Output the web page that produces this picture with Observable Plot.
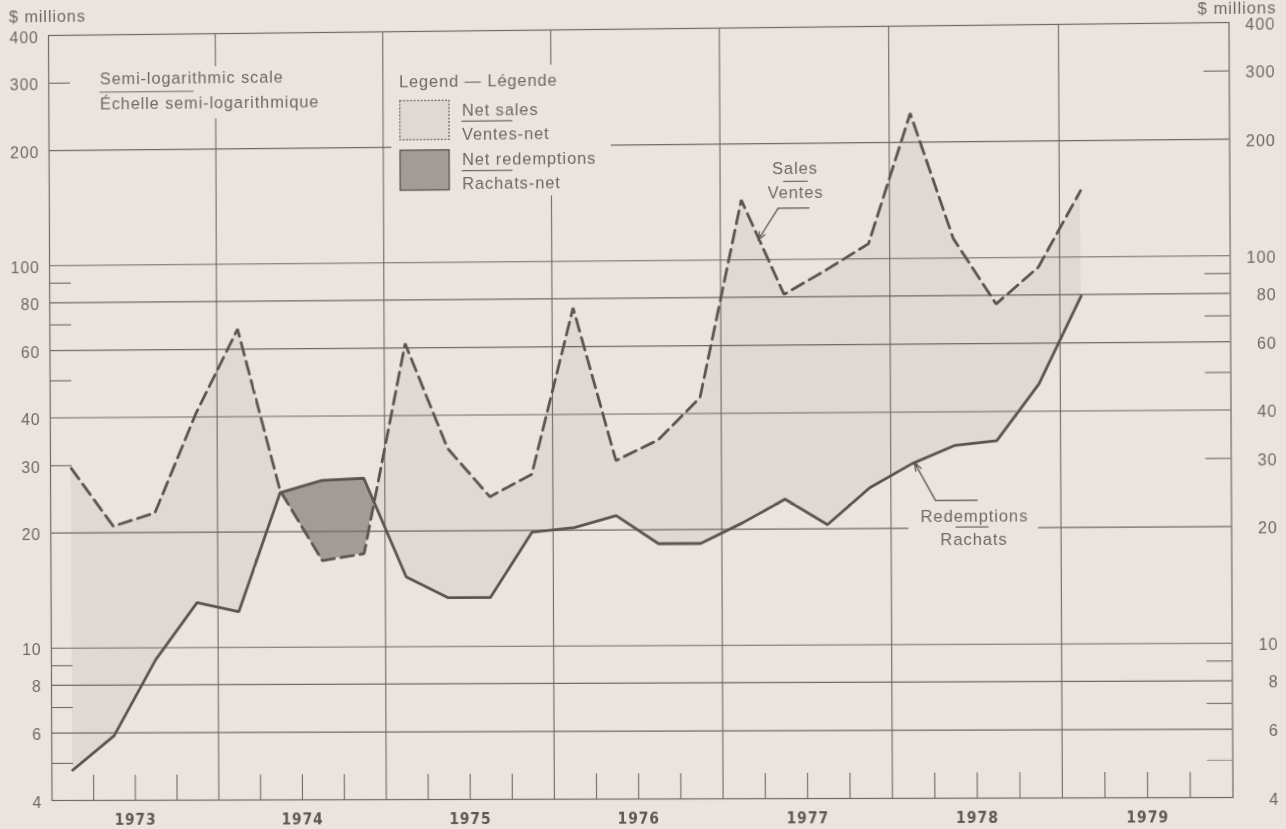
<!DOCTYPE html>
<html>
<head>
<meta charset="utf-8">
<script src="https://cdn.jsdelivr.net/npm/d3@7"></script>
<script src="https://cdn.jsdelivr.net/npm/@observablehq/plot@0.6"></script>
<style>
  html, body { margin: 0; padding: 0; background: #ebe4de; overflow: hidden; }
  #chart svg { display: block; }
</style>
</head>
<body>
<div id="chart"></div>
<script>
// ---- Data (quarterly, $ millions) ----
const periods = [
  "1973 Q1","1973 Q2","1973 Q3","1973 Q4",
  "1974 Q1","1974 Q2","1974 Q3","1974 Q4",
  "1975 Q1","1975 Q2","1975 Q3","1975 Q4",
  "1976 Q1","1976 Q2","1976 Q3","1976 Q4",
  "1977 Q1","1977 Q2","1977 Q3","1977 Q4",
  "1978 Q1","1978 Q2","1978 Q3","1978 Q4",
  "1979 Q1"
];
const sales = [
  29.5, 20.8, 22.5, 41,
  67.7, 25.6, 16.8, 17.5,
  61.6, 32.8, 24.5, 28.0,
  75.7, 30.3, 34.2, 44,
  143, 81.2, 93.8, 109.4,
  237.6, 112.4, 75.9, 94.4,
  148.5
];
const redemptions = [
  4.8, 5.9, 9.3, 13.1,
  12.4, 25.3, 27.2, 27.5,
  15.2, 13.4, 13.4, 19.8,
  20.3, 21.8, 18.4, 18.4,
  20.8, 23.9, 20.5, 25.5,
  29.4, 32.7, 33.6, 47.1,
  79.3
];

// ---- Axes / ticks ----
const yTickLabels = [4, 6, 8, 10, 20, 30, 40, 60, 80, 100, 200, 300, 400];
const yGridValues = [6, 8, 10, 20, 40, 60, 80, 100, 200];
const yShortTicks = [5, 7, 9, 30, 50, 70, 90, 300];
const yearLines = [1974, 1975, 1976, 1977, 1978, 1979];
const yearLabels = [1973, 1974, 1975, 1976, 1977, 1978, 1979];
const quarterTicks = yearLabels.flatMap(y => [y + 0.25, y + 0.5, y + 0.75]);

// ---- Annotations (data coordinates: t = year, v = $ millions) ----
const textsStart = [
  {t: 1972.7634, v: 448.0, text: "$ millions"},
  {t: 1973.3072, v: 306.5, text: "Semi-logarithmic scale"},
  {t: 1973.3072, v: 263.3, text: "Échelle semi-logarithmique"},
  {t: 1975.0956, v: 296.5, text: "Legend — Légende"},
  {t: 1975.4697, v: 248.6, text: "Net sales"},
  {t: 1975.4697, v: 214.9, text: "Ventes-net"},
  {t: 1975.4697, v: 185.2, text: "Net redemptions"},
  {t: 1975.4697, v: 160.3, text: "Rachats-net"}
];
const textsEnd = [
  {t: 1980.2776, v: 435.7, text: "$ millions"}
];
const textsMiddle = [
  {t: 1977.4431, v: 171.65, text: "Sales"},
  {t: 1977.4461, v: 149.2, text: "Ventes"},
  {t: 1978.4910, v: 21.48, text: "Redemptions"},
  {t: 1978.4880, v: 18.62, text: "Rachats"}
];
const underlines = [
  {t1: 1973.3072, t2: 1973.8705, v: 283.4},
  {t1: 1975.4697, t2: 1975.7722, v: 232.8},
  {t1: 1975.4697, t2: 1975.7722, v: 173.1},
  {t1: 1977.3755, t2: 1977.5220, v: 159.4},
  {t1: 1978.3839, t2: 1978.5778, v: 20.12}
];
const leaderBars = [
  {t1: 1977.5303, t2: 1977.3429, v: 135.85},
  {t1: 1978.5135, t2: 1978.2626, v: 23.61}
];
const leaderArrows = [
  {t1: 1977.3429, v1: 135.85, t2: 1977.2228, v2: 112.5},
  {t1: 1978.2626, v1: 23.61, t2: 1978.1399, v2: 29.59}
];
const legendBoxes = [
  {t1: 1975.1027, t2: 1975.3956, v1: 208.4, v2: 263.4, kind: "sales"},
  {t1: 1975.1027, t2: 1975.3956, v1: 154.0, v2: 195.8, kind: "redemptions"}
];
const masks = [
  {t1: 1975.0517, t2: 1976.3562, v1: 148.1, v2: 324},
  {t1: 1973.2787, t2: 1974.6722, v1: 239.8, v2: 328},
  {t1: 1978.1055, t2: 1978.8674, v1: 17.63, v2: 22.85}
];

// ---- Table ----
const rows = periods.map((p, i) => {
  const [yr, q] = p.split(" Q").map(Number);
  return {period: p, t: yr + (q - 0.5) / 4, sales: sales[i], redemptions: redemptions[i]};
});

// ---- Style / layout ----
const BG = "#ebe4de", GRID = "#6f6863", LINE = "#5c5450", TXT = "#6e6762";
const LIGHT = "#e0d9d3", DARK = "#a29b96";
const W = 1286, H = 835, mL = 48, mR = 57.5, mT = 35, mB = 35;
const plotW = W - mL - mR, plotH = H - mT - mB;
const FONT = "'Liberation Sans', Arial, Helvetica, sans-serif";
const NARROW = "'Liberation Sans Narrow', 'Arial Narrow', 'DejaVu Sans Condensed', sans-serif";

// ---- Net sales / net redemptions fill ----
let fillMarks;
if (typeof Plot.differenceY === "function") {
  fillMarks = [Plot.differenceY(rows, {
    x: "t", y1: "redemptions", y2: "sales",
    positiveFill: LIGHT, negativeFill: DARK, fillOpacity: 1, stroke: "none"
  })];
} else {
  const seg = [];
  for (let i = 0; i < rows.length; i++) {
    const a = rows[i];
    seg.push(a);
    if (i + 1 < rows.length) {
      const b = rows[i + 1];
      const da = Math.log(a.sales) - Math.log(a.redemptions);
      const db = Math.log(b.sales) - Math.log(b.redemptions);
      if (da * db < 0) {
        const f = da / (da - db);
        const lv = Math.log(a.sales) + f * (Math.log(b.sales) - Math.log(a.sales));
        seg.push({t: a.t + f * (b.t - a.t), sales: Math.exp(lv), redemptions: Math.exp(lv)});
      }
    }
  }
  fillMarks = [
    Plot.areaY(seg, {x: "t", y1: "redemptions", y2: d => Math.max(d.sales, d.redemptions), fill: LIGHT}),
    Plot.areaY(seg, {x: "t", y1: "sales", y2: d => Math.max(d.sales, d.redemptions), fill: DARK})
  ];
}

const chart = Plot.plot({
  width: W, height: H,
  marginLeft: mL, marginRight: mR, marginTop: mT, marginBottom: mB,
  style: {background: "transparent", color: TXT, fontFamily: FONT, letterSpacing: "0.9px"},
  x: {type: "linear", domain: [1973, 1980], axis: null},
  y: {type: "log", domain: [4, 400], axis: null},
  marks: [
    ...fillMarks,
    // grid
    Plot.ruleY(yGridValues, {stroke: GRID, strokeWidth: 1.1}),
    Plot.ruleX(yearLines, {stroke: GRID, strokeWidth: 1.1}),
    Plot.ruleY(yShortTicks, {stroke: GRID, strokeWidth: 1.1, insetRight: plotW - 22}),
    Plot.ruleY(yShortTicks, {stroke: GRID, strokeWidth: 1.1, insetLeft: plotW - 25}),
    Plot.ruleX(quarterTicks, {stroke: GRID, strokeWidth: 1.1, insetTop: plotH - 25}),
    Plot.frame({stroke: GRID, strokeWidth: 1.2}),
    // blank areas behind labels
    Plot.rect(masks, {x1: "t1", x2: "t2", y1: "v1", y2: "v2", fill: BG}),
    // series
    Plot.line(rows, {x: "t", y: "redemptions", stroke: LINE, strokeWidth: 2.8, strokeLinejoin: "miter"}),
    Plot.line(rows, {x: "t", y: "sales", stroke: LINE, strokeWidth: 2.8, strokeDasharray: "13,6.5", strokeLinejoin: "miter"}),
    // y tick labels, both sides
    Plot.text(yTickLabels, {y: d => d, text: d => String(d), frameAnchor: "left", textAnchor: "end", dx: -10, dy: 2, fontSize: 16, fill: TXT}),
    Plot.text(yTickLabels, {y: d => d, text: d => String(d), frameAnchor: "right", textAnchor: "end", dx: 45.5, dy: 2, fontSize: 16, fill: TXT}),
    // year labels
    Plot.axisX({anchor: "bottom", ticks: yearLabels.map(y => y + 0.5), tickFormat: d => String(Math.floor(d)), tickSize: 0, tickPadding: 13, fontSize: 15.5, fontWeight: "bold", fontFamily: NARROW, fill: "#5f5853"}),
    // legend boxes
    Plot.rect(legendBoxes.filter(d => d.kind === "sales"), {x1: "t1", x2: "t2", y1: "v1", y2: "v2", fill: LIGHT, stroke: GRID, strokeWidth: 1.3, strokeDasharray: "2,1.5"}),
    Plot.rect(legendBoxes.filter(d => d.kind === "redemptions"), {x1: "t1", x2: "t2", y1: "v1", y2: "v2", fill: DARK, stroke: LINE, strokeWidth: 1.3}),
    // labels
    Plot.text(textsStart, {x: "t", y: "v", text: "text", textAnchor: "start", fontSize: 16.5, fill: TXT}),
    Plot.text(textsEnd, {x: "t", y: "v", text: "text", textAnchor: "end", fontSize: 16.5, fill: TXT}),
    Plot.text(textsMiddle, {x: "t", y: "v", text: "text", textAnchor: "middle", fontSize: 16.5, fill: TXT}),
    Plot.ruleY(underlines, {x1: "t1", x2: "t2", y: "v", stroke: TXT, strokeWidth: 1.2}),
    Plot.ruleY(leaderBars, {x1: "t1", x2: "t2", y: "v", stroke: LINE, strokeWidth: 1.2}),
    Plot.arrow(leaderArrows, {x1: "t1", y1: "v1", x2: "t2", y2: "v2", stroke: LINE, strokeWidth: 1.3, headLength: 10, headAngle: 40})
  ]
});
document.getElementById("chart").append(chart);

// ---- slight perspective of the photographed page (page-level transform) ----
function homography(src, dst) {
  const A = [], b = [];
  for (let i = 0; i < 4; i++) {
    const [x, y] = src[i], [u, v] = dst[i];
    A.push([x, y, 1, 0, 0, 0, -x * u, -y * u]); b.push(u);
    A.push([0, 0, 0, x, y, 1, -x * v, -y * v]); b.push(v);
  }
  const n = 8;
  for (let c = 0; c < n; c++) {
    let p = c;
    for (let r = c + 1; r < n; r++) if (Math.abs(A[r][c]) > Math.abs(A[p][c])) p = r;
    [A[c], A[p]] = [A[p], A[c]]; [b[c], b[p]] = [b[p], b[c]];
    for (let r = 0; r < n; r++) {
      if (r === c) continue;
      const f = A[r][c] / A[c][c];
      for (let k = c; k < n; k++) A[r][k] -= f * A[c][k];
      b[r] -= f * b[c];
    }
  }
  return b.map((bv, i) => bv / A[i][i]);
}
const pageSrc = [[50, 35], [1230, 35], [50, 800], [1230, 800]];
const pageDst = [[50, 35], [1230, 22], [53.5, 800], [1234, 797]];
const [ha, hb, hc, hd, he, hf, hg, hh] = homography(pageSrc, pageDst);
chart.style.transformOrigin = "0 0";
chart.style.transform = `matrix3d(${ha},${hd},0,${hg},${hb},${he},0,${hh},0,0,1,0,${hc},${hf},0,1)`;
</script>
</body>
</html>
